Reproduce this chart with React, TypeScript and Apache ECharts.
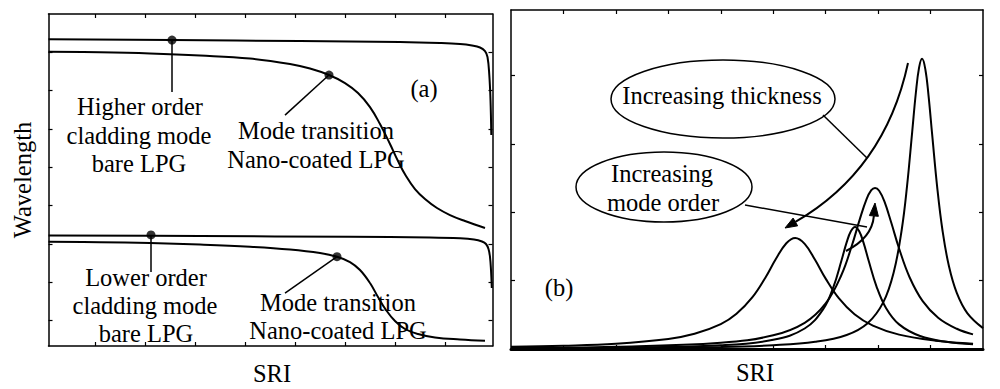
import React, { useEffect, useRef } from "react";
import * as echarts from "echarts";

// ---------- Panel (a) data (x: SRI, arbitrary units; y: wavelength, arbitrary units) ----------
const bareHighX = [0, 2.47, 5.03, 7.03, 7.83, 8.23, 8.47, 8.63, 8.73, 8.78, 8.816, 8.84, 8.856];
const bareHighY = [8.008, 7.99, 7.963, 7.937, 7.911, 7.885, 7.846, 7.794, 7.702, 7.546, 7.076, 6.423, 5.509];

const nanoHighX = [0, 1.03, 2.03, 3.03, 4.03, 4.83, 5.23, 5.61, 5.93, 6.19, 6.43, 6.63, 6.83, 6.99, 7.15, 7.33, 7.53, 7.77, 8.03, 8.33, 8.73];
const nanoHighY = [7.684, 7.668, 7.637, 7.585, 7.507, 7.363, 7.245, 7.076, 6.867, 6.606, 6.24, 5.796, 5.274, 4.83, 4.439, 4.099, 3.838, 3.603, 3.42, 3.264, 3.081];

const bareLowX = [0, 3.03, 6.03, 7.63, 8.23, 8.51, 8.67, 8.75, 8.8, 8.83, 8.85, 8.866];
const bareLowY = [2.885, 2.872, 2.851, 2.833, 2.812, 2.781, 2.728, 2.663, 2.533, 2.324, 1.984, 1.514];

const nanoLowX = [0, 1.03, 2.03, 3.03, 4.03, 4.83, 5.43, 5.77, 6.03, 6.23, 6.43, 6.59, 6.75, 6.93, 7.13, 7.39, 7.73, 8.23, 8.73];
const nanoLowY = [2.723, 2.71, 2.689, 2.65, 2.593, 2.52, 2.428, 2.332, 2.193, 1.984, 1.645, 1.279, 0.94, 0.653, 0.444, 0.313, 0.222, 0.17, 0.138];

// marker dots on the curves
const dotX = [2.47, 5.61, 2.05, 5.77];
const dotY = [7.99, 7.076, 2.9, 2.332];
// leader-line ends (from each dot towards its label)
const leaderEndX = [2.47, 4.73, 2.05, 4.73];
const leaderEndY = [6.63, 6.03, 1.93, 1.38];

const leftXTicks = [0.93, 1.93, 2.93, 3.93, 4.93, 5.93, 6.93, 7.93];
const leftYTicks = [0.67, 1.67, 2.67, 3.67, 4.67, 5.67, 6.67, 7.67];

// ---------- Panel (b) data ----------
const peakAX = [0, 1, 2, 3, 3.5, 4, 4.3, 4.6, 4.85, 5.05, 5.25, 5.42, 5.6, 5.8, 6.0, 6.25, 6.55, 6.9, 7.4, 8.1, 8.81];
const peakAY = [0.032, 0.047, 0.077, 0.147, 0.222, 0.364, 0.515, 0.754, 1.043, 1.316, 1.548, 1.625, 1.539, 1.302, 1.03, 0.744, 0.509, 0.341, 0.21, 0.122, 0.078];

const peakBX = [0, 2, 4, 5, 5.6, 5.95, 6.15, 6.3, 6.4, 6.48, 6.56, 6.64, 6.72, 6.82, 6.97, 7.15, 7.4, 7.8, 8.3, 8.81];
const peakBY = [0.009, 0.018, 0.055, 0.135, 0.3, 0.58, 0.914, 1.291, 1.56, 1.723, 1.786, 1.723, 1.56, 1.291, 0.914, 0.601, 0.36, 0.19, 0.105, 0.07];

const peakCX = [0, 2, 4, 5, 5.6, 6.0, 6.3, 6.5, 6.65, 6.78, 6.87, 6.941, 7.02, 7.12, 7.25, 7.4, 7.6, 7.85, 8.15, 8.5, 8.81];
const peakCY = [0.017, 0.033, 0.091, 0.2, 0.383, 0.666, 1.083, 1.514, 1.897, 2.194, 2.324, 2.357, 2.316, 2.159, 1.851, 1.47, 1.05, 0.7, 0.454, 0.296, 0.214];

const peakDX = [0, 2, 4, 5, 5.8, 6.4, 6.8, 7.1, 7.3, 7.45, 7.55, 7.65, 7.72, 7.78, 7.838, 7.9, 7.96, 8.03, 8.13, 8.23, 8.35, 8.5, 8.7, 9.0];
const peakDY = [0.007, 0.013, 0.03, 0.055, 0.105, 0.205, 0.377, 0.686, 1.13, 1.745, 2.372, 3.178, 3.749, 4.114, 4.246, 4.096, 3.719, 3.143, 2.343, 1.723, 1.214, 0.821, 0.526, 0.306];

const rightXTicks = [1, 2, 3, 4, 5, 6, 7, 8];
const rightYTicks = [1, 2, 3, 4];

const zip = (xs: number[], ys: number[]) => xs.map((x, i) => [x, ys[i]]);

const FAMILY = '"Liberation Serif", "Times New Roman", Times, serif';
const FSIZE = 24.5;
const INK = "#000";

function App() {
  const ref = useRef<HTMLDivElement>(null);

  useEffect(() => {
    if (!ref.current) return;
    const chart = echarts.init(ref.current, null, { renderer: "svg" });

    const axisBase = (extra: any) => ({
      type: "value",
      axisLine: { show: true, onZero: false, lineStyle: { color: INK, width: 1.5 } },
      axisLabel: { show: false },
      splitLine: { show: false },
      ...extra,
    });
    const tick = (vals: number[]) => ({
      show: true,
      inside: true,
      length: 4,
      customValues: vals,
      lineStyle: { color: INK, width: 1.2 },
    });

    const curve = (xs: number[], ys: number[], xi: number, yi: number) => ({
      type: "line",
      xAxisIndex: xi,
      yAxisIndex: yi,
      data: zip(xs, ys),
      showSymbol: false,
      symbol: "none",
      smooth: 0.4,
      lineStyle: { color: INK, width: 2 },
      silent: true,
    });

    const leaders = dotX.map((x, i) => ({
      type: "line",
      xAxisIndex: 0,
      yAxisIndex: 0,
      data: [
        [x, dotY[i]],
        [leaderEndX[i], leaderEndY[i]],
      ],
      showSymbol: false,
      symbol: "none",
      lineStyle: { color: INK, width: 1.5 },
      silent: true,
    }));

    const text = (t: string, x: number, y: number, extra: any = {}) => ({
      type: "text",
      x,
      y,
      silent: true,
      style: {
        text: t,
        fontFamily: FAMILY,
        fontSize: FSIZE,
        fill: INK,
        textAlign: "center",
        textVerticalAlign: "middle",
        align: "center",
        verticalAlign: "middle",
      },
      ...extra,
    });

    // arrow heads
    const tA = [785, 228];
    const dA = [-0.864, 0.503];
    const bA = [tA[0] - 12 * dA[0], tA[1] - 12 * dA[1]];
    const pA = [-dA[1], dA[0]];
    const tB = [875, 203];
    const dB = [0.085, -0.996];
    const bB = [tB[0] - 13 * dB[0], tB[1] - 13 * dB[1]];
    const pB = [-dB[1], dB[0]];

    chart.setOption({
      animation: false,
      backgroundColor: "#fff",
      grid: [
        { left: 48.5, top: 14, width: 444, height: 332, containLabel: false },
        { left: 511, top: 10, width: 472, height: 339, containLabel: false },
      ],
      xAxis: [
        axisBase({ gridIndex: 0, position: "bottom", min: 0, max: 8.88, axisTick: tick(leftXTicks) }),
        axisBase({ gridIndex: 0, position: "top", min: 0, max: 8.88, axisTick: tick(leftXTicks) }),
        axisBase({
          gridIndex: 1,
          position: "bottom",
          min: 0,
          max: 9,
          axisTick: tick(rightXTicks),
          axisLine: { show: true, onZero: false, lineStyle: { color: INK, width: 3 } },
        }),
        axisBase({ gridIndex: 1, position: "top", min: 0, max: 9, axisTick: tick(rightXTicks) }),
      ],
      yAxis: [
        axisBase({ gridIndex: 0, position: "left", min: 0, max: 8.67, axisTick: tick(leftYTicks) }),
        axisBase({ gridIndex: 0, position: "right", min: 0, max: 8.67, axisTick: tick(leftYTicks) }),
        axisBase({ gridIndex: 1, position: "left", min: 0, max: 4.96, axisTick: tick(rightYTicks) }),
        axisBase({ gridIndex: 1, position: "right", min: 0, max: 4.96, axisTick: tick(rightYTicks) }),
      ],
      series: [
        curve(bareHighX, bareHighY, 0, 0),
        curve(nanoHighX, nanoHighY, 0, 0),
        curve(bareLowX, bareLowY, 0, 0),
        curve(nanoLowX, nanoLowY, 0, 0),
        ...leaders,
        {
          type: "scatter",
          xAxisIndex: 0,
          yAxisIndex: 0,
          data: zip(dotX, dotY),
          symbol: "circle",
          symbolSize: 9,
          itemStyle: { color: INK },
          silent: true,
          z: 5,
        },
        curve(peakAX, peakAY, 2, 2),
        curve(peakBX, peakBY, 2, 2),
        curve(peakCX, peakCY, 2, 2),
        curve(peakDX, peakDY, 2, 2),
      ],
      graphic: [
        // panel (a) labels
        text("Higher order", 140, 106),
        text("cladding mode", 139, 135),
        text("bare LPG", 139, 163),
        text("Mode transition", 316, 130),
        text("Nano-coated LPG", 316, 159),
        text("(a)", 424, 88),
        text("Lower order", 146, 277),
        text("cladding mode", 145, 305),
        text("bare LPG", 146, 333),
        text("Mode transition", 338, 302),
        text("Nano-coated LPG", 338, 330),
        text("SRI", 272, 373),
        text("Wavelength", 22, 180, { rotation: Math.PI / 2 }),
        // panel (b) annotations
        {
          type: "ellipse",
          silent: true,
          shape: { cx: 723, cy: 99, rx: 112, ry: 39 },
          style: { fill: "rgba(0,0,0,0)", stroke: INK, lineWidth: 1.5 },
        },
        text("Increasing thickness", 722, 95),
        {
          type: "ellipse",
          silent: true,
          shape: { cx: 664, cy: 187, rx: 88, ry: 35 },
          style: { fill: "rgba(0,0,0,0)", stroke: INK, lineWidth: 1.5 },
        },
        text("Increasing", 662, 173),
        text("mode order", 663, 202),
        text("(b)", 559, 287),
        text("SRI", 755, 372),
        {
          type: "line",
          silent: true,
          shape: { x1: 823, y1: 115, x2: 867, y2: 158 },
          style: { stroke: INK, lineWidth: 1.5 },
        },
        {
          type: "line",
          silent: true,
          shape: { x1: 745, y1: 205, x2: 867, y2: 227 },
          style: { stroke: INK, lineWidth: 1.5 },
        },
        {
          type: "bezierCurve",
          silent: true,
          shape: { x1: 908, y1: 63, cpx1: 885, cpy1: 170, x2: bA[0], y2: bA[1] },
          style: { stroke: INK, lineWidth: 2, fill: "none" },
        },
        {
          type: "polygon",
          silent: true,
          shape: {
            points: [
              tA,
              [bA[0] + 4.5 * pA[0], bA[1] + 4.5 * pA[1]],
              [bA[0] - 4.5 * pA[0], bA[1] - 4.5 * pA[1]],
            ],
          },
          style: { fill: INK, stroke: INK, lineWidth: 1 },
        },
        {
          type: "bezierCurve",
          silent: true,
          shape: { x1: 846, y1: 251, cpx1: 872, cpy1: 238, x2: bB[0], y2: bB[1] },
          style: { stroke: INK, lineWidth: 2, fill: "none" },
        },
        {
          type: "polygon",
          silent: true,
          shape: {
            points: [
              tB,
              [bB[0] + 4.5 * pB[0], bB[1] + 4.5 * pB[1]],
              [bB[0] - 4.5 * pB[0], bB[1] - 4.5 * pB[1]],
            ],
          },
          style: { fill: INK, stroke: INK, lineWidth: 1 },
        },
      ],
    });

    return () => chart.dispose();
  }, []);

  return (
    <div
      ref={ref}
      style={{ position: "fixed", left: 0, top: 0, width: "1000px", height: "389px", background: "#fff" }}
    />
  );
}

export default App;
